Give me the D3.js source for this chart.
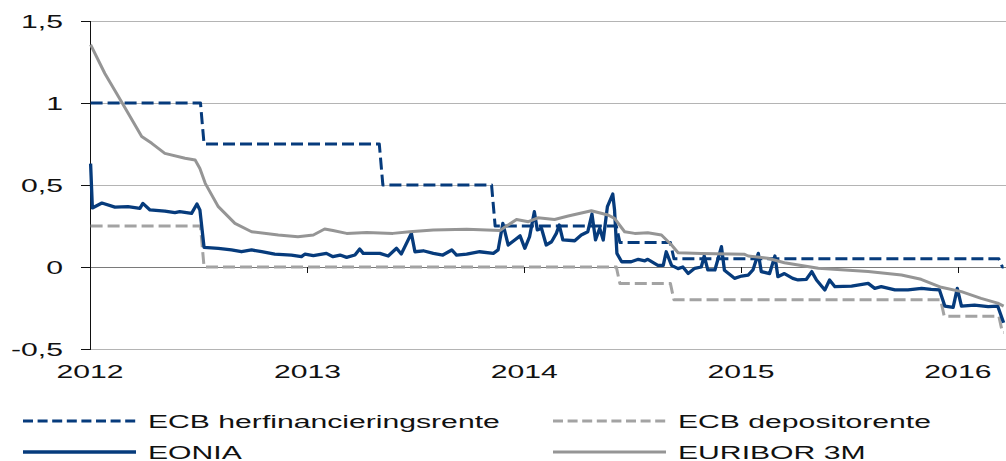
<!DOCTYPE html>
<html>
<head>
<meta charset="utf-8">
<script src="https://cdn.jsdelivr.net/npm/d3@7"></script>
<style>
  body { margin: 0; background: #fff; }
  svg { display: block; }
  text { font-family: "Liberation Sans", Arial, sans-serif; fill: #111; }
</style>
</head>
<body>
<div class="chart"></div>
<script>
// beleidsrentes (datum van wijziging + nieuw niveau)
var refiDates = ["2012-01-02", "2012-07-11", "2013-05-08", "2013-11-13", "2014-06-11", "2014-09-10", "2016-03-16"];
var refiValues = [1.00, 0.75, 0.50, 0.25, 0.15, 0.05, 0.00];
var depoDates = ["2012-01-02", "2012-07-11", "2014-06-11", "2014-09-10", "2015-12-09", "2016-03-16"];
var depoValues = [0.25, 0.00, -0.10, -0.20, -0.30, -0.40];
var endDate = "2016-03-18";

// EONIA
var eoniaDates = ["2012-01-02", "2012-01-05", "2012-01-21", "2012-02-12", "2012-03-05", "2012-03-25", "2012-03-30",
  "2012-04-11", "2012-05-06", "2012-05-23", "2012-05-31", "2012-06-20", "2012-06-29", "2012-07-04", "2012-07-11",
  "2012-08-04", "2012-08-26", "2012-09-12", "2012-09-29", "2012-10-16", "2012-11-07", "2012-12-05", "2012-12-22",
  "2012-12-28", "2013-01-11", "2013-02-02", "2013-02-13", "2013-02-25", "2013-03-08", "2013-03-22", "2013-03-30",
  "2013-04-05", "2013-05-03", "2013-05-17", "2013-05-31", "2013-06-08", "2013-06-25", "2013-07-01", "2013-07-15",
  "2013-08-01", "2013-08-17", "2013-09-01", "2013-09-09", "2013-09-26", "2013-10-18", "2013-11-10", "2013-11-18",
  "2013-11-26", "2013-12-05", "2013-12-16", "2013-12-25", "2014-01-02", "2014-01-10", "2014-01-18", "2014-01-23",
  "2014-01-30", "2014-02-07", "2014-02-16", "2014-02-24", "2014-03-01", "2014-03-07", "2014-03-27", "2014-04-07",
  "2014-04-18", "2014-04-25", "2014-05-01", "2014-05-08", "2014-05-14", "2014-05-21", "2014-05-30", "2014-06-02",
  "2014-06-06", "2014-06-14", "2014-06-30", "2014-07-12", "2014-07-23", "2014-07-28", "2014-08-14", "2014-08-23",
  "2014-08-28", "2014-09-06", "2014-09-17", "2014-09-25", "2014-10-04", "2014-10-15", "2014-10-26", "2014-10-31",
  "2014-11-06", "2014-11-18", "2014-11-29", "2014-12-04", "2014-12-21", "2015-01-02", "2015-01-13", "2015-01-21",
  "2015-01-30", "2015-02-04", "2015-02-18", "2015-02-27", "2015-03-04", "2015-03-15", "2015-03-29", "2015-04-07",
  "2015-04-21", "2015-04-30", "2015-05-08", "2015-05-22", "2015-05-30", "2015-06-08", "2015-07-06", "2015-08-03",
  "2015-08-14", "2015-08-25", "2015-09-17", "2015-10-09", "2015-11-01", "2015-11-17", "2015-12-01", "2015-12-10",
  "2015-12-24", "2015-12-31", "2016-01-07", "2016-01-29", "2016-02-21", "2016-03-08", "2016-03-18"];
var eoniaValues = [0.63, 0.36, 0.39, 0.365, 0.368, 0.358, 0.388,
  0.348, 0.341, 0.331, 0.337, 0.327, 0.384, 0.348, 0.12,
  0.114, 0.104, 0.093, 0.104, 0.093, 0.079, 0.073, 0.063,
  0.079, 0.07, 0.083, 0.063, 0.073, 0.059, 0.073, 0.11,
  0.083, 0.083, 0.067, 0.114, 0.079, 0.205, 0.093, 0.099,
  0.083, 0.073, 0.104, 0.073, 0.079, 0.093, 0.083, 0.104,
  0.266, 0.134, 0.165, 0.19, 0.114, 0.185, 0.337, 0.226,
  0.236, 0.134, 0.154, 0.205, 0.256, 0.165, 0.16, 0.195,
  0.215, 0.323, 0.165, 0.236, 0.165, 0.368, 0.445, 0.348,
  0.083, 0.032, 0.032, 0.047, 0.038, 0.047, 0.01, 0.01,
  0.093, 0.01, -0.01, 0.0, -0.04, -0.008, 0.0, 0.067,
  -0.018, -0.018, 0.124, -0.02, -0.069, -0.055, -0.049, -0.018,
  0.083, -0.028, -0.04, 0.067, -0.059, -0.04, -0.069, -0.079,
  -0.075, -0.028, -0.079, -0.14, -0.079, -0.12, -0.116, -0.1,
  -0.13, -0.12, -0.14, -0.14, -0.13, -0.136, -0.14, -0.238,
  -0.246, -0.13, -0.238, -0.232, -0.242, -0.238, -0.34];

// EURIBOR 3M
var euriborDates = ["2012-01-02", "2012-01-26", "2012-02-23", "2012-03-28", "2012-04-14", "2012-05-06", "2012-06-09",
  "2012-06-26", "2012-07-04", "2012-07-13", "2012-08-04", "2012-09-01", "2012-09-29", "2012-11-13", "2012-12-16",
  "2013-01-11", "2013-01-30", "2013-02-13", "2013-03-08", "2013-04-11", "2013-05-25", "2013-06-22", "2013-08-01",
  "2013-09-26", "2013-10-30", "2013-11-21", "2013-12-19", "2014-01-08", "2014-01-24", "2014-02-21", "2014-03-16",
  "2014-04-24", "2014-05-22", "2014-06-02", "2014-06-19", "2014-07-06", "2014-07-28", "2014-08-20", "2014-09-06",
  "2014-09-17", "2014-10-26", "2015-01-07", "2015-01-13", "2015-02-15", "2015-03-15", "2015-05-11", "2015-08-03",
  "2015-09-28", "2015-10-31", "2015-12-04", "2016-01-07", "2016-02-09", "2016-03-08", "2016-03-18"];
var euriborValues = [1.356, 1.18, 1.008, 0.795, 0.754, 0.693, 0.663,
  0.652, 0.60, 0.51, 0.368, 0.266, 0.215, 0.195, 0.185,
  0.195, 0.232, 0.222, 0.205, 0.21, 0.205, 0.215, 0.225,
  0.23, 0.225, 0.222, 0.29, 0.276, 0.30, 0.29, 0.311,
  0.343, 0.317, 0.297, 0.215, 0.205, 0.209, 0.195, 0.134,
  0.087, 0.083, 0.077, 0.067, 0.053, 0.026, -0.008, -0.028,
  -0.049, -0.075, -0.124, -0.15, -0.191, -0.22, -0.238];

var yTicks = [1.5, 1, 0.5, 0, -0.5];
var yearTicks = [2012, 2013, 2014, 2015, 2016];
var legendLabels = ["ECB herfinancieringsrente", "ECB depositorente", "EONIA", "EURIBOR 3M"];

var width = 1006;
var height = 461;
var parse = d3.utcParse("%Y-%m-%d");
var stretch = 1.63; // tekst is horizontaal uitgerekt in het origineel

var svg = d3.select(".chart").append("svg")
.attr("width", width)
.attr("height", height);

var x = d3.scaleUtc()
.domain([parse("2012-01-01"), parse("2016-03-22")])
.range([90, 1006]);
var y = d3.scaleLinear()
.domain([-0.5, 1.5])
.range([349, 21]);

// trapfunctie voor beleidsrentes, overgang over ongeveer een week
function stepSeries(dates, values) {
  var pts = [];
  for (var i = 0; i < dates.length; i++) {
    var d = parse(dates[i]);
    pts.push([d, values[i]]);
    var next = i + 1 < dates.length ? d3.utcDay.offset(parse(dates[i + 1]), -6) : parse(endDate);
    pts.push([next, values[i]]);
  }
  return pts;
}

function zipSeries(dates, values) {
  return dates.map((d, i) => [parse(d), values[i]]);
}

var series = [
  { name: legendLabels[0], pts: stepSeries(refiDates, refiValues), color: "#063b7c", w: 3, dash: "12,5", ldash: "10,4.6" },
  { name: legendLabels[1], pts: stepSeries(depoDates, depoValues), color: "#a3a3a3", w: 3, dash: "12,5", ldash: "10,4.6" },
  { name: legendLabels[2], pts: zipSeries(eoniaDates, eoniaValues), color: "#063b7c", w: 3.3, dash: null },
  { name: legendLabels[3], pts: zipSeries(euriborDates, euriborValues), color: "#959595", w: 3, dash: null }
];

// rasterlijnen
svg.append("g")
.selectAll("line")
.data(yTicks.filter(v => v != 0))
.enter()
.append("line")
.attr("x1", 90)
.attr("x2", width)
.attr("y1", d => y(d) + 0.5)
.attr("y2", d => y(d) + 0.5)
.attr("stroke", "#b4b4b4")
.attr("stroke-width", 1);

// nullijn met jaartikjes
svg.append("line")
.attr("x1", 90)
.attr("x2", width)
.attr("y1", y(0) + 0.5)
.attr("y2", y(0) + 0.5)
.attr("stroke", "#7a7a7a")
.attr("stroke-width", 1.2);

svg.append("g")
.selectAll("line")
.data(yearTicks.slice(1))
.enter()
.append("line")
.attr("x1", d => Math.round(x(parse(d + "-01-01"))) + 0.5)
.attr("x2", d => Math.round(x(parse(d + "-01-01"))) + 0.5)
.attr("y1", y(0))
.attr("y2", y(0) + 6)
.attr("stroke", "#111");

// y-as
svg.append("line")
.attr("x1", 90.5)
.attr("x2", 90.5)
.attr("y1", y(1.5))
.attr("y2", y(-0.5) + 1)
.attr("stroke", "#111");

svg.append("g")
.selectAll("line")
.data(yTicks)
.enter()
.append("line")
.attr("x1", 81)
.attr("x2", 90)
.attr("y1", d => y(d) + 0.5)
.attr("y2", d => y(d) + 0.5)
.attr("stroke", "#111");

svg.append("g")
.selectAll("text")
.data(yTicks)
.enter()
.append("text")
.attr("transform", d => "translate(63," + (y(d) + 6.7) + ") scale(" + stretch + ",1)")
.attr("text-anchor", "end")
.style("font-size", "18.5px")
.text(d => d3.format("")(d).replace(".", ",").replace("−", "-"));

// jaartallen
svg.append("g")
.selectAll("text")
.data(yearTicks)
.enter()
.append("text")
.attr("transform", d => "translate(" + x(parse(d + "-01-01")) + ",378) scale(" + stretch + ",1)")
.attr("text-anchor", "middle")
.style("font-size", "18.5px")
.text(d => d);

// lijnen
var line = d3.line()
.x(d => x(d[0]))
.y(d => y(d[1]));

svg.append("g")
.selectAll("path")
.data(series)
.enter()
.append("path")
.attr("d", d => line(d.pts))
.attr("fill", "none")
.attr("stroke", d => d.color)
.attr("stroke-width", d => d.w)
.attr("stroke-dasharray", d => d.dash)
.attr("stroke-linejoin", "round");

// legenda
var legendPos = [[23, 421], [553, 421], [23, 452], [553, 452]];
var legend = svg.append("g")
.selectAll("g")
.data(series)
.enter()
.append("g")
.attr("transform", (d, i) => "translate(" + legendPos[i][0] + "," + legendPos[i][1] + ")");

legend.append("line")
.attr("x1", 0)
.attr("x2", 113)
.attr("stroke", d => d.color)
.attr("stroke-width", d => d.w)
.attr("stroke-dasharray", d => d.ldash || null);

legend.append("text")
.attr("transform", "translate(125,6.5) scale(" + stretch + ",1)")
.style("font-size", "18.5px")
.text(d => d.name);
</script>
</body>
</html>
